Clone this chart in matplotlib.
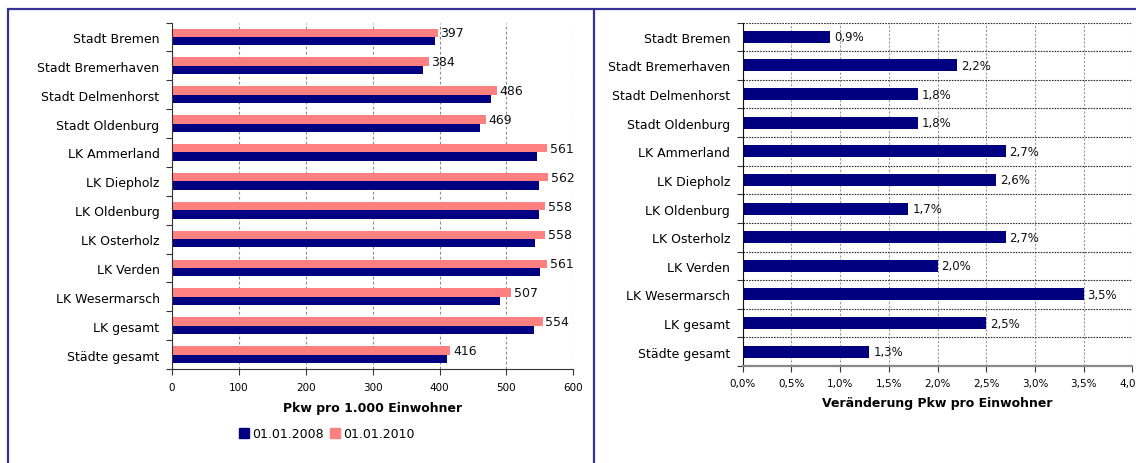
import matplotlib
matplotlib.use("Agg")
import matplotlib.pyplot as plt
from matplotlib.lines import Line2D
from matplotlib.patches import Patch
import numpy as np

plt.rcParams['font.family'] = ['DejaVu Sans']

categories = ["Stadt Bremen", "Stadt Bremerhaven", "Stadt Delmenhorst",
              "Stadt Oldenburg", "LK Ammerland", "LK Diepholz", "LK Oldenburg",
              "LK Osterholz", "LK Verden", "LK Wesermarsch", "LK gesamt",
              "Städte gesamt"]
pkw_2008 = [393.5, 376, 477, 461, 546, 548, 549, 543, 550, 490, 540.5, 411]
pkw_2010 = [397, 384, 486, 469, 561, 562, 558, 558, 561, 507, 554, 416]
change_pct = [0.9, 2.2, 1.8, 1.8, 2.7, 2.6, 1.7, 2.7, 2.0, 3.5, 2.5, 1.3]

left_ticks = [0, 100, 200, 300, 400, 500, 600]
right_ticks = [0.0, 0.5, 1.0, 1.5, 2.0, 2.5, 3.0, 3.5, 4.0]

NAVY = "#000080"
PINK = "#FF8080"
FRAME = "#333399"

W, H = 1136, 464
fig = plt.figure(figsize=(W / 100, H / 100), dpi=100)

def fx(px):
    return px / W

def fy(py):
    return 1 - py / H

# panel frame
fig.add_artist(Line2D([fx(7.5), fx(7.5)], [fy(9.0), fy(470)], color=FRAME,
                      lw=1.6, solid_capstyle="butt"))
fig.add_artist(Line2D([fx(6.7), fx(1140)], [fy(9.7), fy(9.7)], color=FRAME,
                      lw=1.6, solid_capstyle="butt"))
fig.add_artist(Line2D([fx(593.5), fx(593.5)], [fy(9.0), fy(470)], color=FRAME,
                      lw=1.6, solid_capstyle="butt"))

y = np.arange(len(categories))

# ---- left: cars per 1000 inhabitants ----
axL = fig.add_axes([fx(172), fy(370), fx(573.3) - fx(172), fy(23.5) - fy(370)])
h = 0.29
axL.barh(y - h / 2, pkw_2010, height=h, color=PINK, label="01.01.2010")
axL.barh(y + h / 2, pkw_2008, height=h, color=NAVY, label="01.01.2008")
for yi, v in zip(y, pkw_2010):
    axL.text(v + 4, yi - h / 2, f"{v:d}", va="center", ha="left", fontsize=9,
             color="#111111")
axL.set_xlim(0, 600)
axL.set_ylim(len(categories) - 0.5, -0.5)
axL.set_xticks(left_ticks)
axL.set_xticklabels([str(t) for t in left_ticks], fontsize=7.5)
axL.set_yticks(y)
axL.set_yticklabels(categories, fontsize=9)
axL.set_yticks(np.arange(-0.5, len(categories) + 0.5, 1), minor=True)
axL.tick_params(axis="y", which="major", length=0, pad=9)
axL.tick_params(axis="y", which="minor", length=4, width=0.8, color="#333333")
axL.tick_params(axis="x", length=4, width=0.8, color="#333333", pad=5.5)
for s in ["top", "right"]:
    axL.spines[s].set_visible(False)
axL.spines["left"].set_color("#333333")
axL.spines["bottom"].set_color("#333333")
axL.xaxis.grid(True, linestyle=(0, (2.5, 2)), color="#8a8a8a", lw=0.8)
axL.set_axisbelow(True)
axL.set_xlabel("Pkw pro 1.000 Einwohner", fontsize=9, fontweight="bold", labelpad=6.5)

handles = [Patch(color=NAVY), Patch(color=PINK)]
fig.legend(handles, ["01.01.2008", "01.01.2010"], loc="center",
           bbox_to_anchor=(fx(327), fy(435)), ncol=2, frameon=False,
           fontsize=9, handlelength=0.8, handleheight=0.8, handletextpad=0.25,
           columnspacing=0.5)

# ---- right: change in cars per inhabitant ----
axR = fig.add_axes([fx(742.7), fy(367), fx(1132.3) - fx(742.7), fy(23.5) - fy(367)])
axR.barh(y, change_pct, height=0.42, color=NAVY)
for yi, v in zip(y, change_pct):
    axR.text(v + 0.04, yi, f"{v:.1f}%".replace(".", ","), va="center", ha="left",
             fontsize=8.5, color="#111111")
axR.set_xlim(0, 4.0)
axR.set_ylim(len(categories) - 0.5, -0.5)
axR.set_xticks(right_ticks)
axR.set_xticklabels([f"{t:.1f}%".replace(".", ",") for t in right_ticks], fontsize=7.5)
axR.set_yticks(y)
axR.set_yticklabels(categories, fontsize=9)
axR.set_yticks(np.arange(-0.5, len(categories) + 0.5, 1), minor=True)
axR.tick_params(axis="y", which="major", length=0, pad=9)
axR.tick_params(axis="y", which="minor", length=4, width=0.8, color="#333333")
axR.tick_params(axis="x", length=4, width=0.8, color="#333333", pad=4.5)
for s in ["top", "right"]:
    axR.spines[s].set_visible(False)
axR.spines["left"].set_color("#111111")
axR.spines["bottom"].set_color("#888888")
axR.spines["bottom"].set_linewidth(1.6)
axR.xaxis.grid(True, linestyle=(0, (2, 1.5)), color="#9a9a9a", lw=0.8)
axR.yaxis.grid(True, which="minor", linestyle=(0, (1.5, 1)), color="#333333", lw=0.8)
axR.set_axisbelow(True)
axR.set_xlabel("Veränderung Pkw pro Einwohner", fontsize=9, fontweight="bold",
               labelpad=6)

fig.savefig("out.png", dpi=100)
